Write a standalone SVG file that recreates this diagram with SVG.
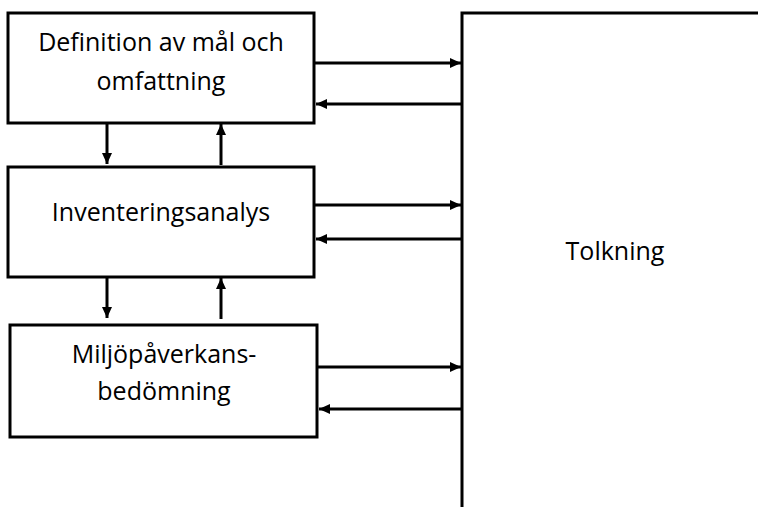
<svg xmlns="http://www.w3.org/2000/svg" width="758" height="507" viewBox="0 0 758 507">
<style>
.box{fill:#fff;stroke:#000;stroke-width:3}
.lbl{font-family:"Open Sans","Liberation Sans",sans-serif;font-size:25px;fill:#000;text-anchor:middle}
.c{stroke:#000;stroke-width:3;fill:none}
</style>
<defs>
<marker id="ah" markerUnits="userSpaceOnUse" markerWidth="11" markerHeight="10" refX="11" refY="5" orient="auto">
<path d="M0,0 L11,5 L0,10 Z" fill="#000"/>
</marker>
</defs>
<rect width="758" height="507" fill="#fff"/>
<g id="tolkning">
<path d="M462,507 V13 H758" class="c"/>
<text class="lbl" x="615" y="260">Tolkning</text>
</g>
<g id="definition">
<rect class="box" x="8" y="13" width="306" height="110"/>
<text class="lbl" x="161" y="51">Definition av mål och</text>
<text class="lbl" x="161" y="90">omfattning</text>
</g>
<g id="inventering">
<rect class="box" x="8" y="167" width="306" height="110"/>
<text class="lbl" x="161" y="221">Inventeringsanalys</text>
</g>
<g id="miljo">
<rect class="box" x="10" y="325" width="307" height="112"/>
<text class="lbl" x="164" y="363">Miljöpåverkans-</text>
<text class="lbl" x="164" y="400">bedömning</text>
</g>
<g id="connectors">
<line class="c" x1="314" y1="63" x2="461" y2="63" marker-end="url(#ah)"/>
<line class="c" x1="462" y1="104" x2="316" y2="104" marker-end="url(#ah)"/>
<line class="c" x1="314" y1="205" x2="461" y2="205" marker-end="url(#ah)"/>
<line class="c" x1="462" y1="239" x2="316" y2="239" marker-end="url(#ah)"/>
<line class="c" x1="317" y1="367" x2="461" y2="367" marker-end="url(#ah)"/>
<line class="c" x1="462" y1="409" x2="319" y2="409" marker-end="url(#ah)"/>
<line class="c" x1="107" y1="123" x2="107" y2="164" marker-end="url(#ah)"/>
<line class="c" x1="221" y1="165" x2="221" y2="124" marker-end="url(#ah)"/>
<line class="c" x1="107" y1="277" x2="107" y2="318" marker-end="url(#ah)"/>
<line class="c" x1="221" y1="319" x2="221" y2="278" marker-end="url(#ah)"/>
</g>
</svg>
